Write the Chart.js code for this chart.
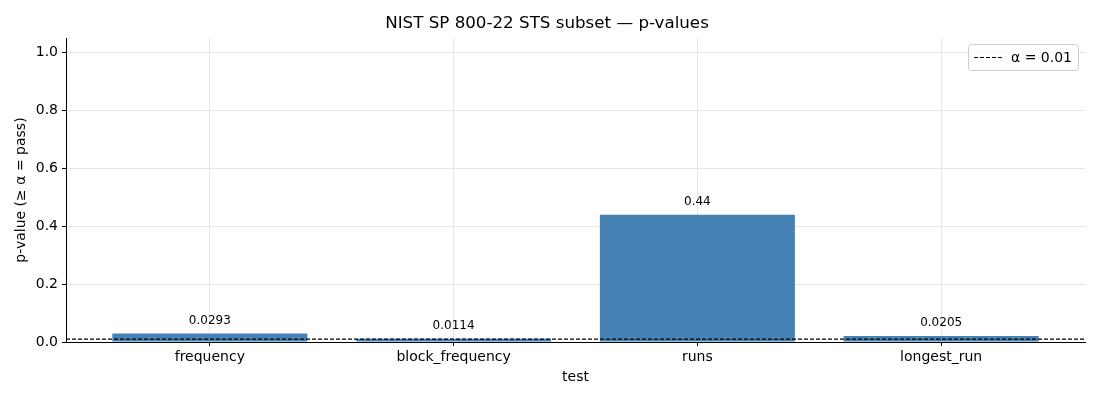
<!DOCTYPE html>
<html>
<head>
<meta charset="utf-8">
<script src="https://cdn.jsdelivr.net/npm/chart.js@4"></script>
<style>
  html, body { margin: 0; padding: 0; background: #fff; }
  #wrap { width: 1100px; height: 400px; }
</style>
</head>
<body>
<div id="wrap"><canvas id="myChart" width="1100" height="400"></canvas></div>
<script>
// values
const tests = ['frequency', 'block_frequency', 'runs', 'longest_run'];
const pValues = [0.0293, 0.0114, 0.44, 0.0205];
const pLabels = ['0.0293', '0.0114', '0.44', '0.0205'];
const alpha = 0.01;
const yTicks = [0, 0.2, 0.4, 0.6, 0.8, 1.0];
const xMin = -0.59, xMax = 3.59;

const FONT = "'DejaVu Sans', sans-serif";

// value labels above each bar + legend box inside the plot
const extras = {
    id: 'extras',
    afterDatasetsDraw(chart) {
        const ctx = chart.ctx;
        const meta = chart.getDatasetMeta(0);
        ctx.save();
        ctx.fillStyle = '#000';
        ctx.font = '12px ' + FONT;
        ctx.textAlign = 'center';
        ctx.textBaseline = 'bottom';
        meta.data.forEach((bar, i) => {
            ctx.fillText(pLabels[i], bar.x, bar.y - 7);
        });

        // legend
        const a = chart.chartArea;
        const w = 110, h = 26;
        const x = a.right - 7 - w, y = a.top + 6;
        ctx.fillStyle = 'rgba(255,255,255,0.8)';
        ctx.strokeStyle = '#ccc';
        ctx.lineWidth = 1;
        ctx.beginPath();
        ctx.roundRect(x + 0.5, y + 0.5, w, h, 3);
        ctx.fill();
        ctx.stroke();
        ctx.strokeStyle = '#000';
        ctx.setLineDash([4, 2]);
        ctx.beginPath();
        ctx.moveTo(x + 6, y + h / 2 + 0.5);
        ctx.lineTo(x + 34, y + h / 2 + 0.5);
        ctx.stroke();
        ctx.setLineDash([]);
        ctx.fillStyle = '#000';
        ctx.font = '14px ' + FONT;
        ctx.textAlign = 'left';
        ctx.textBaseline = 'middle';
        ctx.fillText(chart.data.datasets[1].label, x + 43, y + h / 2 + 1);
        ctx.restore();
    }
};

const ctx = document.getElementById('myChart').getContext('2d');
const myChart = new Chart(ctx, {
    type: 'bar',
    data: {
        datasets: [{
            type: 'bar',
            label: 'p-value',
            data: pValues.map((v, i) => ({ x: i, y: v })),
            backgroundColor: '#4682b4',
            borderWidth: 0,
            barPercentage: 1.0,
            categoryPercentage: 0.8,
            order: 2
        }, {
            type: 'line',
            label: 'α = ' + alpha,
            data: [{ x: xMin, y: alpha }, { x: xMax, y: alpha }],
            borderColor: '#000',
            borderWidth: 1.1,
            borderDash: [4, 2],
            pointRadius: 0,
            fill: false,
            order: 1
        }]
    },
    options: {
        responsive: false,
        animation: false,
        devicePixelRatio: 1,
        layout: { padding: { left: 9, right: 15, top: 0, bottom: 10 } },
        plugins: {
            legend: { display: false },
            tooltip: { enabled: false },
            title: {
                display: true,
                text: 'NIST SP 800-22 STS subset — p-values',
                color: '#000',
                font: { family: FONT, size: 16.7, weight: 'normal' },
                padding: { top: 14, bottom: 4 }
            }
        },
        scales: {
            x: {
                type: 'linear',
                offset: false,
                min: xMin,
                max: xMax,
                afterBuildTicks: s => { s.ticks = tests.map((t, i) => ({ value: i })); },
                afterFit: s => { s.height = 48; },
                ticks: {
                    callback: v => tests[v],
                    color: '#000',
                    font: { family: FONT, size: 14 },
                    padding: 3,
                    maxRotation: 0,
                    autoSkip: false
                },
                grid: { offset: false, color: '#e6e6e6', tickColor: '#000', tickLength: 4 },
                border: { color: '#000' },
                title: {
                    display: true,
                    text: 'test',
                    color: '#000',
                    font: { family: FONT, size: 14 },
                    padding: { top: 0 }
                }
            },
            y: {
                min: 0,
                max: 1.05,
                afterBuildTicks: s => { s.ticks = yTicks.map(v => ({ value: v })); },
                afterFit: s => { s.width = 57; },
                ticks: {
                    callback: v => v.toFixed(1),
                    color: '#000',
                    font: { family: FONT, size: 14 },
                    padding: 4
                },
                grid: { color: '#e6e6e6', tickColor: '#000', tickLength: 4 },
                border: { color: '#000' },
                title: {
                    display: true,
                    text: 'p-value (≥ α = pass)',
                    color: '#000',
                    font: { family: FONT, size: 14 },
                    padding: { bottom: 2 }
                }
            }
        }
    },
    plugins: [extras]
});
</script>
</body>
</html>
